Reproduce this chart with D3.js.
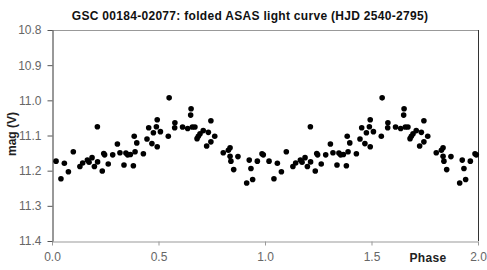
<!DOCTYPE html>
<html>
<head>
    <script src="https://d3js.org/d3.v7.min.js"></script>
    <style>
        body { margin: 0; background: #fff; font-family: Arial, "Liberation Sans", sans-serif; }
    </style>
</head>
<body>
    <div id="chart"></div>
    <script>
        // one folded cycle, phase 0..1 (the chart shows it twice, 0..2)
        const phase = [0.019, 0.042, 0.058, 0.077, 0.100, 0.131, 0.144, 0.166, 0.174, 0.188,
            0.199, 0.213, 0.214, 0.236, 0.243, 0.247, 0.264, 0.285, 0.307, 0.319,
            0.338, 0.347, 0.355, 0.368, 0.382, 0.386, 0.390, 0.398, 0.429, 0.446,
            0.454, 0.469, 0.476, 0.490, 0.494, 0.494, 0.509, 0.550, 0.546, 0.577,
            0.576, 0.613, 0.637, 0.653, 0.651, 0.659, 0.671, 0.681, 0.687, 0.695,
            0.710, 0.726, 0.734, 0.746, 0.746, 0.764, 0.804, 0.828, 0.836, 0.836,
            0.840, 0.853, 0.873, 0.914, 0.926, 0.934, 0.942, 0.964, 0.986, 0.992];
        const mag = [11.173, 11.223, 11.179, 11.203, 11.146, 11.188, 11.178, 11.170, 11.176, 11.163,
            11.188, 11.075, 11.175, 11.201, 11.151, 11.155, 11.181, 11.155, 11.124, 11.149,
            11.184, 11.150, 11.155, 11.154, 11.186, 11.102, 11.146, 11.121, 11.152, 11.110,
            11.078, 11.123, 11.092, 11.075, 11.055, 11.132, 11.089, 10.993, 11.102, 11.064,
            11.078, 11.076, 11.080, 11.024, 11.042, 11.076, 11.076, 11.109, 11.102, 11.095,
            11.086, 11.130, 11.091, 11.058, 11.118, 11.102, 11.149, 11.142, 11.135, 11.159,
            11.173, 11.197, 11.160, 11.235, 11.170, 11.194, 11.225, 11.173, 11.152, 11.155];
        const cycles = [0, 1];
        const xTicks = [0, 0.5, 1, 1.5, 2];
        const yTicks = [10.8, 10.9, 11.0, 11.1, 11.2, 11.3, 11.4];

        const width = 487, height = 270;
        const margin = { top: 30, right: 9, bottom: 29, left: 52 };

        const x = d3.scaleLinear().domain([0, 2]).range([margin.left, width - margin.right]);
        const y = d3.scaleLinear().domain([10.8, 11.4]).range([margin.top, height - margin.bottom]);

        const svg = d3.select("#chart").append("svg")
            .attr("width", width)
            .attr("height", height);

        // title
        svg.append("text")
            .attr("x", 250)
            .attr("y", 20)
            .attr("text-anchor", "middle")
            .style("font-size", "12px")
            .style("font-weight", "bold")
            .style("letter-spacing", "0.3px")
            .attr("fill", "#111")
            .text("GSC 00184-02077: folded ASAS light curve (HJD 2540-2795)");

        // frame: top and right
        svg.append("line")
            .attr("x1", x(0)).attr("x2", x(2))
            .attr("y1", y(10.8) + 0.5).attr("y2", y(10.8) + 0.5)
            .attr("stroke", "#999");
        svg.append("line")
            .attr("x1", x(2) + 0.5).attr("x2", x(2) + 0.5)
            .attr("y1", y(10.8)).attr("y2", y(11.4))
            .attr("stroke", "#333");

        // x axis
        const xAxis = svg.append("g")
            .attr("transform", "translate(0," + (y(11.4) + 0.5) + ")")
            .call(d3.axisBottom(x).tickValues(xTicks).tickFormat(d3.format(".1f")).tickSizeInner(4).tickSizeOuter(0).tickPadding(7));
        xAxis.select(".domain").attr("stroke", "#999");
        xAxis.selectAll(".tick line").attr("stroke", "#999");
        xAxis.selectAll("text").attr("fill", "#666").style("font-size", "12px").style("font-family", "Arial, sans-serif");

        // y axis
        const yAxis = svg.append("g")
            .attr("transform", "translate(" + (x(0) + 0.5) + ",0)")
            .call(d3.axisLeft(y).tickValues(yTicks).tickFormat(d3.format(".1f")).tickSizeInner(5).tickSizeOuter(0).tickPadding(6));
        yAxis.select(".domain").attr("stroke", "#333");
        yAxis.selectAll(".tick line").attr("stroke", "#555");
        yAxis.selectAll("text").attr("fill", "#666").style("font-size", "12px").style("font-family", "Arial, sans-serif");

        // axis titles
        svg.append("text")
            .attr("transform", "translate(16,134) rotate(-90)")
            .attr("text-anchor", "middle")
            .style("font-size", "12px")
            .style("font-weight", "bold")
            .attr("fill", "#222")
            .text("mag (V)");

        svg.append("text")
            .attr("x", 428)
            .attr("y", 262)
            .attr("text-anchor", "middle")
            .style("font-size", "12px")
            .style("font-weight", "bold")
            .style("letter-spacing", "0.3px")
            .attr("fill", "#222")
            .text("Phase");

        // points
        const points = [];
        cycles.forEach(c => {
            phase.forEach((p, i) => points.push({ p: p + c, m: mag[i] }));
        });

        svg.selectAll(".dot")
            .data(points)
            .enter().append("circle")
            .attr("class", "dot")
            .attr("cx", d => x(d.p))
            .attr("cy", d => y(d.m))
            .attr("r", 2.8)
            .attr("fill", "#000");
    </script>
</body>
</html>
